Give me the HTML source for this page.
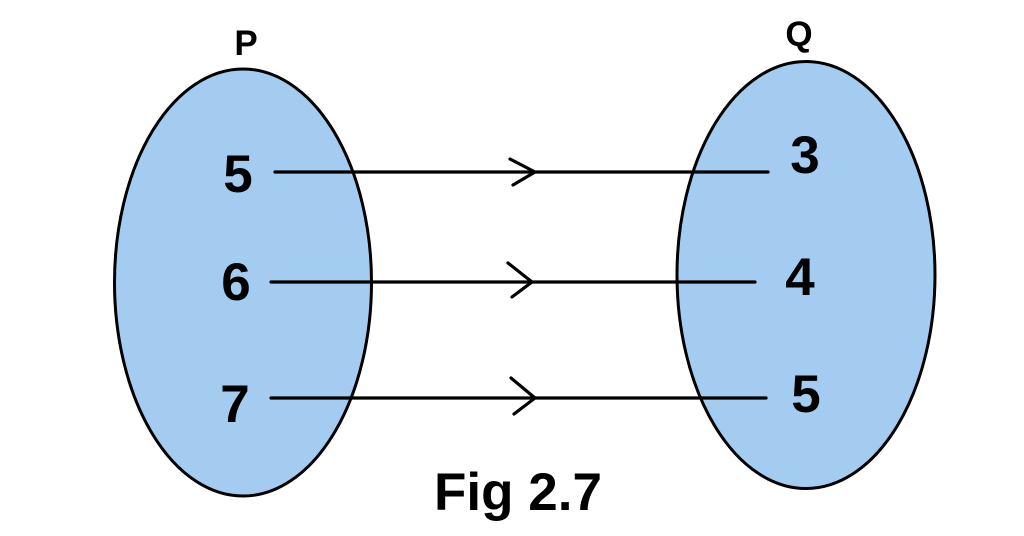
<!DOCTYPE html>
<html>
<head>
<meta charset="utf-8">
<style>
  html, body { margin: 0; padding: 0; background: #ffffff; }
  body { width: 1024px; height: 536px; overflow: hidden; }
  svg { display: block; }
  text { font-family: "Liberation Sans", "DejaVu Sans", sans-serif; font-weight: bold; fill: #000; }
</style>
</head>
<body>
<svg width="1024" height="536" viewBox="0 0 1024 536" xmlns="http://www.w3.org/2000/svg">
  <rect width="1024" height="536" fill="#ffffff"/>

  <!-- Ellipses -->
  <ellipse cx="243" cy="282.5" rx="128.5" ry="213.5" fill="#a4ccf1" stroke="#000" stroke-width="3"/>
  <ellipse cx="806" cy="275" rx="129" ry="213.5" fill="#a4ccf1" stroke="#000" stroke-width="3"/>

  <!-- Set labels -->
  <text x="246" y="55" font-size="35" text-anchor="middle">P</text>
  <text x="799" y="46" font-size="35" text-anchor="middle">Q</text>

  <!-- Left numbers -->
  <text x="238" y="192" font-size="53" text-anchor="middle">5</text>
  <text x="236" y="300" font-size="53" text-anchor="middle">6</text>
  <text x="235" y="422" font-size="53" text-anchor="middle">7</text>

  <!-- Right numbers -->
  <text x="805" y="173" font-size="53" text-anchor="middle">3</text>
  <text x="800" y="295" font-size="53" text-anchor="middle">4</text>
  <text x="806" y="412" font-size="53" text-anchor="middle">5</text>

  <!-- Connectors -->
  <g stroke="#000" stroke-width="3.2" fill="none" stroke-linecap="round" stroke-linejoin="round">
    <line x1="275" y1="172" x2="768" y2="172"/>
    <polyline points="510,159 535,172 513,185"/>

    <line x1="271" y1="282" x2="755" y2="282"/>
    <polyline points="508,263 532,282 512,297"/>

    <line x1="271" y1="398" x2="766" y2="398"/>
    <polyline points="511,378 535,398 514,414"/>
  </g>

  <!-- Caption -->
  <text x="518" y="510" font-size="53" text-anchor="middle">Fig 2.7</text>
</svg>
</body>
</html>
